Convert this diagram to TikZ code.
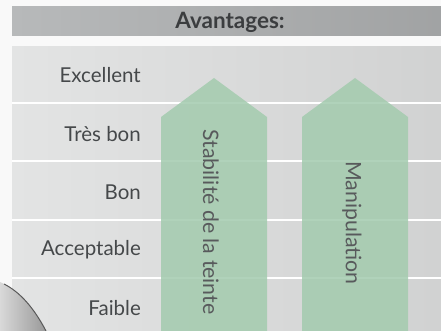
\documentclass[tikz,border=0pt]{standalone}
\usepackage{fontspec}
\setmainfont{Lato}
\usepackage{tikz}
\usetikzlibrary{positioning}
\definecolor{headgray}{HTML}{B7B9BA}
\definecolor{rowgray}{HTML}{E3E4E4}
\definecolor{textgray}{HTML}{45484A}
\definecolor{arrowgreen}{HTML}{A3CBAE}
\tikzset{
    level/.style={
           anchor=east,
           text=textgray,
           font=\fontsize{20.5}{24}\selectfont,
           inner sep=0pt,
           },
    bar/.style={
           fill=arrowgreen,
           fill opacity=0.85,
           draw=none,
           },
    bartext/.style={
           rotate=-90,
           text=textgray!90,
           font=\fontsize{21.3}{24}\selectfont,
           inner sep=0pt,
           },
    divider/.style={
           draw=white, line width=2pt,
           },
}

\begin{document}
\begin{tikzpicture}[x=1pt, y=-1pt]
    \useasboundingbox (0,0) rectangle (441,331);
    % background
    \fill[white!95!gray] (0,0) rectangle (441,331);

    % header bar
    \shade[left color=headgray, right color=headgray!88!black] (12,7) rectangle (441,36);
    \node[font=\fontsize{22.5}{26}\selectfont\bfseries, text=textgray!85!black]
        (head) at (230,22) {Avantages:};

    % rows of the table
    \shade[left color=rowgray, right color=rowgray!92!black] (12,47) rectangle (441,331);
    \foreach \y in {103,161,220,278}
        \draw[divider] (12,\y) -- (441,\y);

    % level names, right aligned
    \node[level] (excellent) at (141,75)  {Excellent};
    \node[level] (tresbon)   at (141,134) {Très bon};
    \node[level] (bon)       at (141,192) {Bon};
    \node[level] (acceptable) at (141,250) {Acceptable};
    \node[level] (faible)    at (141,308) {Faible};

    % arrows
    \fill[bar] (161,331) -- (161,117) -- (214,78) -- (267,117) -- (267,331) -- cycle;
    \fill[bar] (302,331) -- (302,117) -- (355,78) -- (408,117) -- (408,331) -- cycle;

    \node[bartext] (stabilite)   at (211,222) {Stabilité de la teinte};
    \node[bartext] (manipulation) at (352,223) {Manipulation};

    % curled corner
    \shade[left color=gray!30, right color=gray!80]
        (0,282) .. controls (18,290) and (34,308) .. (46,331) -- (0,331) -- cycle;
    \draw[gray!70!black, line width=1pt]
        (4,284) .. controls (20,292) and (34,308) .. (46,331);
\end{tikzpicture}
\end{document}
